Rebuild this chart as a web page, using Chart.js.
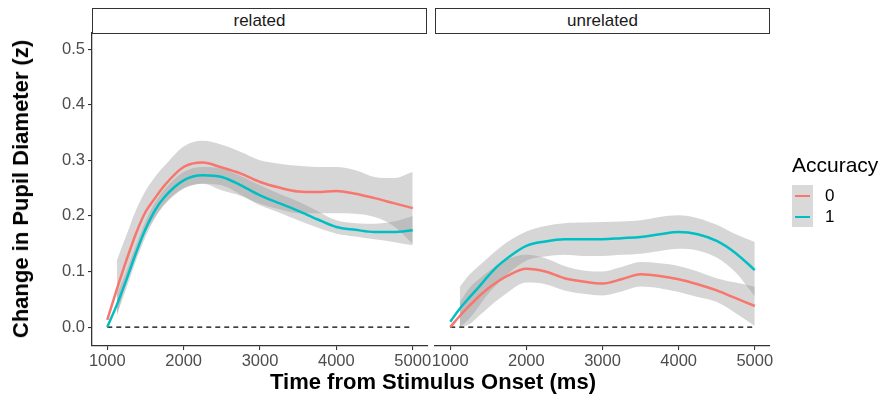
<!DOCTYPE html>
<html>
<head>
<meta charset="utf-8">
<script src="https://cdn.jsdelivr.net/npm/chart.js@4.4.1/dist/chart.umd.min.js"></script>
<style>
  body { margin: 0; background: #fff; font-family: 'Liberation Sans', Arial, sans-serif; }
  #wrap { position: relative; width: 888px; height: 401px; overflow: hidden; }
  canvas { position: absolute; left: 0; top: 0; }
  .strip { position: absolute; top: 8px; height: 24px; border: 1.4px solid #333; background: #fff;
           font-size: 17px; color: #1a1a1a; text-align: center; line-height: 24px; box-sizing: content-box; }
  .ytitle { position: absolute; left: 21px; top: 189px; transform: translate(-50%, -50%) rotate(-90deg);
            white-space: nowrap; font-weight: bold; font-size: 22px; color: #000; }
  .xtitle { position: absolute; left: 433px; top: 382px; transform: translate(-50%, -50%);
            white-space: nowrap; font-weight: bold; font-size: 22px; color: #000; }
  .legtitle { position: absolute; left: 792px; top: 153px; font-size: 21px; color: #000; }
  .key { position: absolute; left: 792px; width: 21px; height: 21px; background: #d9d9d9; }
  .key div { position: absolute; left: 3px; right: 3px; top: 9.5px; height: 2.2px; }
  .keylab { position: absolute; left: 825px; font-size: 17px; color: #000; }
</style>
</head>
<body>
<div id="wrap">
  <canvas id="left" width="888" height="401"></canvas>
  <canvas id="right" width="888" height="401"></canvas>
  <div class="strip" style="left:92px; width:333px;">related</div>
  <div class="strip" style="left:435px; width:333px;">unrelated</div>
  <div class="ytitle">Change in Pupil Diameter (z)</div>
  <div class="xtitle">Time from Stimulus Onset (ms)</div>
  <div class="legtitle">Accuracy</div>
  <div class="key" style="top:185px;"><div style="background:#F8766D"></div></div>
  <div class="key" style="top:206px;"><div style="background:#00BFC4"></div></div>
  <div class="keylab" style="top:186px;">0</div>
  <div class="keylab" style="top:207px;">1</div>
</div>
<script>
// time grid (ms)
const time = [1000, 1125, 1250, 1375, 1500, 1625, 1750, 2000, 2250, 2500, 2750, 3000, 3250, 3500, 3750, 4000, 4250, 4500, 4750, 5000];
const xTicks = [1000, 2000, 3000, 4000, 5000];
const yTicks = [0, 0.1, 0.2, 0.3, 0.4, 0.5];

// related — accuracy 0 / 1 (smooth fit + CI)
const relAcc0    = [0.013, 0.068, 0.120, 0.168, 0.207, 0.232, 0.255, 0.288, 0.296, 0.287, 0.276, 0.261, 0.251, 0.244, 0.243, 0.245, 0.240, 0.232, 0.223, 0.214];
const relAcc0Hi  = [null, 0.120, 0.165, 0.210, 0.245, 0.270, 0.290, 0.325, 0.335, 0.328, 0.315, 0.300, 0.294, 0.290, 0.288, 0.288, 0.282, 0.270, 0.268, 0.279];
const relAcc0Lo  = [null, 0.020, 0.080, 0.125, 0.170, 0.198, 0.222, 0.250, 0.258, 0.246, 0.236, 0.222, 0.212, 0.205, 0.205, 0.205, 0.204, 0.198, 0.182, 0.150];
const relAcc1    = [0.000, 0.040, 0.085, 0.133, 0.176, 0.210, 0.234, 0.264, 0.273, 0.270, 0.255, 0.237, 0.223, 0.209, 0.194, 0.180, 0.175, 0.171, 0.171, 0.174];
const relAcc1Hi  = [null, 0.058, 0.100, 0.147, 0.190, 0.224, 0.248, 0.279, 0.288, 0.285, 0.272, 0.255, 0.240, 0.226, 0.209, 0.192, 0.187, 0.186, 0.190, 0.200];
const relAcc1Lo  = [null, 0.022, 0.070, 0.119, 0.162, 0.196, 0.220, 0.249, 0.258, 0.255, 0.238, 0.219, 0.206, 0.192, 0.179, 0.168, 0.163, 0.158, 0.153, 0.147];

// unrelated — accuracy 0 / 1
const unrAcc0    = [0.000, 0.020, 0.038, 0.055, 0.070, 0.082, 0.092, 0.105, 0.100, 0.088, 0.082, 0.0785, 0.086, 0.095, 0.092, 0.086, 0.077, 0.066, 0.052, 0.038];
const unrAcc0Hi  = [null, 0.045, 0.070, 0.086, 0.100, 0.112, 0.122, 0.130, 0.124, 0.110, 0.102, 0.100, 0.108, 0.117, 0.115, 0.110, 0.100, 0.088, 0.080, 0.0725];
const unrAcc0Lo  = [null, 0.000, 0.005, 0.020, 0.035, 0.049, 0.062, 0.080, 0.077, 0.066, 0.060, 0.057, 0.064, 0.073, 0.070, 0.063, 0.054, 0.045, 0.025, 0.002];
const unrAcc1    = [0.0095, 0.033, 0.053, 0.072, 0.092, 0.110, 0.124, 0.146, 0.154, 0.158, 0.158, 0.158, 0.160, 0.162, 0.167, 0.171, 0.167, 0.155, 0.133, 0.1025];
const unrAcc1Hi  = [null, 0.072, 0.094, 0.110, 0.125, 0.140, 0.153, 0.172, 0.182, 0.187, 0.188, 0.189, 0.190, 0.192, 0.198, 0.201, 0.196, 0.184, 0.167, 0.153];
const unrAcc1Lo  = [null, 0.000, 0.015, 0.037, 0.060, 0.078, 0.095, 0.120, 0.127, 0.130, 0.128, 0.128, 0.130, 0.132, 0.137, 0.141, 0.138, 0.125, 0.098, 0.055];

const RED = '#F8766D', TEAL = '#00BFC4', BAND = 'rgba(153,153,153,0.4)';
const pts = arr => time.map((t, i) => ({ x: t, y: arr[i] }));

function panelDatasets(a0, a0hi, a0lo, a1, a1hi, a1lo) {
  const line = (data, color) => ({ data: pts(data), borderColor: color, borderWidth: 2.5, pointRadius: 0, cubicInterpolationMode: 'monotone', fill: false });
  const edge = (data, fill) => ({ data: pts(data), borderWidth: 0, borderColor: 'rgba(0,0,0,0)', pointRadius: 0, cubicInterpolationMode: 'monotone', backgroundColor: BAND, fill });
  return [
    line(a0, RED),
    line(a1, TEAL),
    { data: [{ x: 1000, y: 0 }, { x: 5000, y: 0 }], borderColor: '#000', borderWidth: 1.4, borderDash: [5, 4], pointRadius: 0, fill: false },
    edge(a0hi, false), edge(a0lo, '-1'),
    edge(a1hi, false), edge(a1lo, '-1'),
  ];
}

function makePanel(id, datasets, showY, padLeft, padRight) {
  const tickFont = { family: "'Liberation Sans', Arial, sans-serif", size: 16.5 };
  new Chart(document.getElementById(id).getContext('2d'), {
    type: 'line',
    data: { datasets },
    options: {
      responsive: false,
      animation: false,
      devicePixelRatio: 1,
      layout: { padding: { left: padLeft, right: padRight, top: 33, bottom: 25 } },
      plugins: { legend: { display: false }, tooltip: { enabled: false } },
      scales: {
        x: {
          type: 'linear', min: 800, max: 5200,
          afterBuildTicks: s => { s.ticks = xTicks.map(v => ({ value: v })); },
          afterFit: s => { s.height = 30; },
          ticks: { font: tickFont, color: '#4d4d4d', padding: 2, maxRotation: 0, autoSkip: false, callback: v => String(v) },
          grid: { drawOnChartArea: false, drawTicks: true, tickLength: 4, color: '#333', lineWidth: 1.1 },
          border: { display: true, color: '#333', width: 1.3 },
        },
        y: {
          type: 'linear', min: -0.034, max: 0.529, display: showY,
          afterBuildTicks: s => { s.ticks = yTicks.map(v => ({ value: v })); },
          afterFit: s => { s.width = showY ? 92 : 0; },
          ticks: { font: tickFont, color: '#4d4d4d', padding: 3, callback: v => v.toFixed(1) },
          grid: { drawOnChartArea: false, drawTicks: true, tickLength: 4, color: '#333', lineWidth: 1.1 },
          border: { display: true, color: '#333', width: 1.3 },
        },
      },
    },
  });
}

makePanel('left', panelDatasets(relAcc0, relAcc0Hi, relAcc0Lo, relAcc1, relAcc1Hi, relAcc1Lo), true, 0, 460);
makePanel('right', panelDatasets(unrAcc0, unrAcc0Hi, unrAcc0Lo, unrAcc1, unrAcc1Hi, unrAcc1Lo), false, 435, 118);
</script>
</body>
</html>
